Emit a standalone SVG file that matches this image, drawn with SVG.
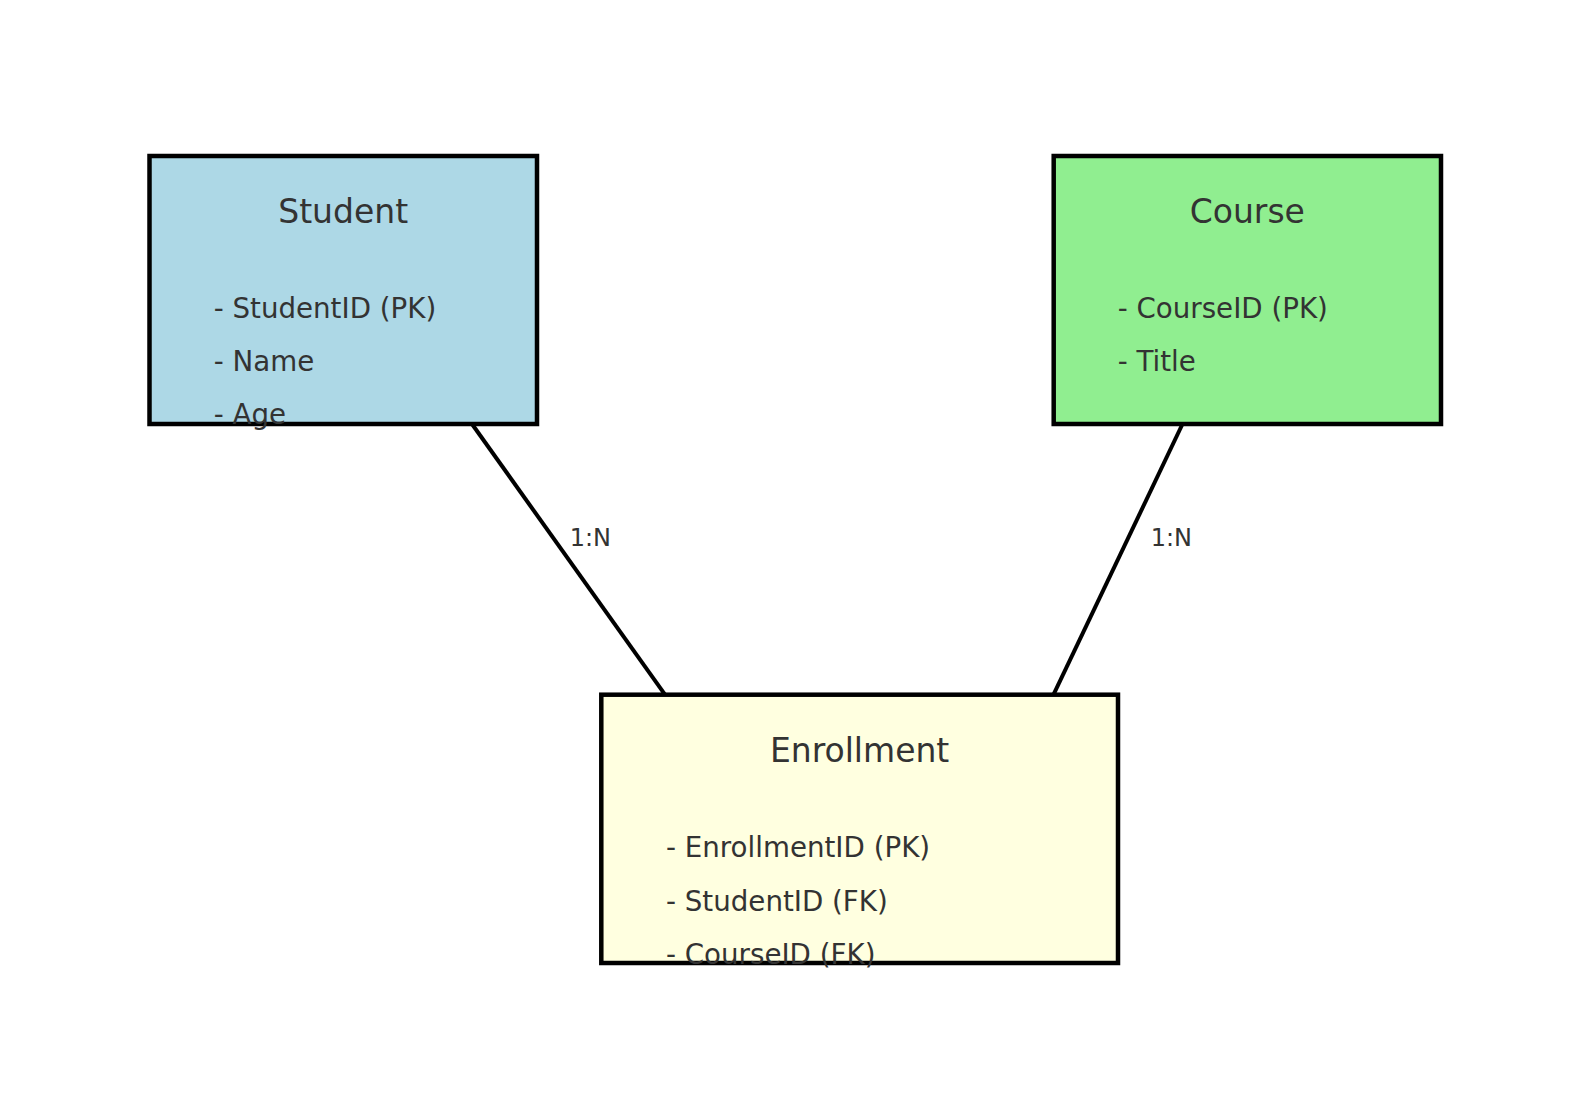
<svg xmlns="http://www.w3.org/2000/svg" width="1589" height="1118" viewBox="0 0 1589 1118">
<style>
.box{stroke:#000;stroke-width:4.5}
.title{font-family:"DejaVu Sans",sans-serif;font-size:33px;fill:#333;text-anchor:middle}
.attr{font-family:"DejaVu Sans",sans-serif;font-size:27.7px;fill:#333}
.conn{stroke:#000;stroke-width:4;fill:none}
.lbl{font-family:"DejaVu Sans",sans-serif;font-size:24px;fill:#333}
</style>
<rect width="1589" height="1118" fill="#fff"/>
<g id="connectors">
<line class="conn" x1="472" y1="424" x2="665" y2="694.7"/>
<line class="conn" x1="1182.5" y1="424" x2="1053.5" y2="694.7"/>
<text class="lbl" x="569.7" y="546">1:N</text>
<text class="lbl" x="1150.7" y="546">1:N</text>
</g>
<g id="student">
<rect class="box" x="149.5" y="156" width="387.5" height="268" fill="#ADD8E6"/>
<text class="title" x="343.2" y="223">Student</text>
<text class="attr" x="213.7" y="318">- StudentID (PK)</text>
<text class="attr" x="213.7" y="371">- Name</text>
<text class="attr" x="213.7" y="424">- Age</text>
</g>
<g id="course">
<rect class="box" x="1053.7" y="156" width="387.3" height="268" fill="#90EE90"/>
<text class="title" x="1247.3" y="223">Course</text>
<text class="attr" x="1117.7" y="318">- CourseID (PK)</text>
<text class="attr" x="1117.7" y="371">- Title</text>
</g>
<g id="enrollment">
<rect class="box" x="601.3" y="694.7" width="516.7" height="268.3" fill="#FFFFE0"/>
<text class="title" x="859.6" y="762">Enrollment</text>
<text class="attr" x="666" y="857">- EnrollmentID (PK)</text>
<text class="attr" x="666" y="910.5">- StudentID (FK)</text>
<text class="attr" x="666" y="964">- CourseID (FK)</text>
</g>
</svg>
